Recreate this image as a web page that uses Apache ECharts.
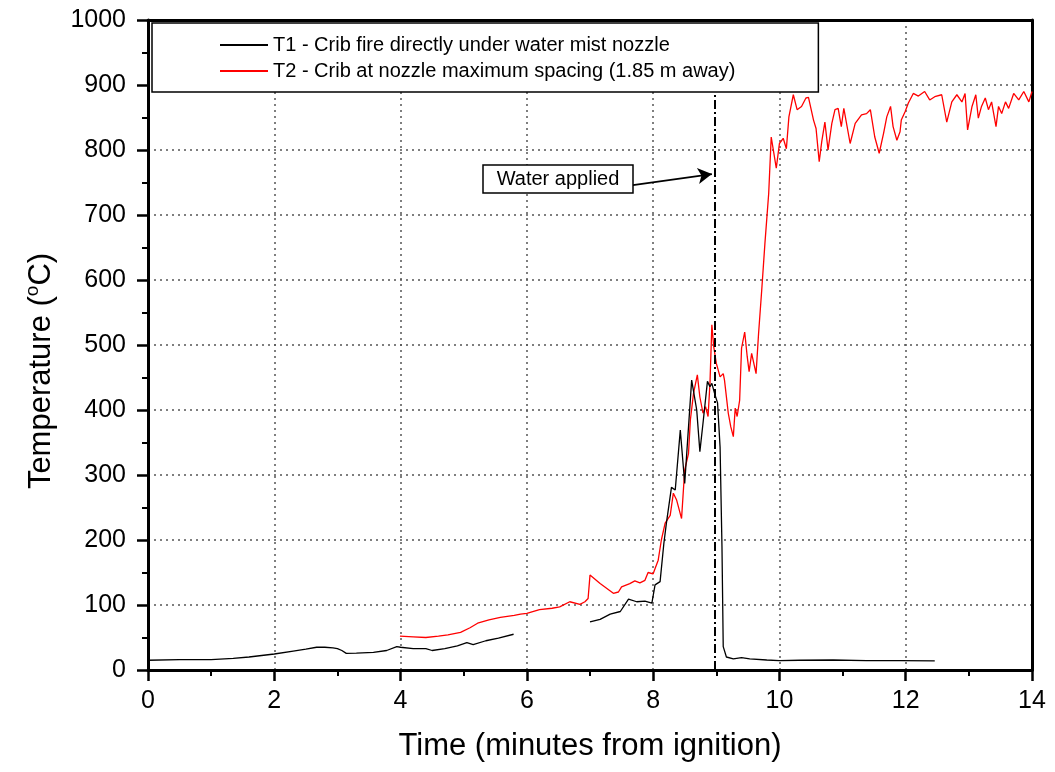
<!DOCTYPE html>
<html>
<head>
<meta charset="utf-8">
<script src="https://cdn.jsdelivr.net/npm/echarts@6/dist/echarts.min.js"></script>
<style>
html,body{margin:0;padding:0;background:#fff;}
#chart{width:1055px;height:772px;}
</style>
</head>
<body>
<div id="chart"></div>
<script>
// ---- Data ----
const seriesNames = [
  'T1 - Crib fire directly under water mist nozzle',
  'T2 - Crib at nozzle maximum spacing (1.85 m away)'
];
const xTicks = [0, 2, 4, 6, 8, 10, 12, 14];
const yTicks = [0, 100, 200, 300, 400, 500, 600, 700, 800, 900, 1000];
const waterAppliedTime = 8.97;
const waterLineRange = [0, 891];
const annotationText = 'Water applied';
const arrowStart = [7.68, 746];
const arrowEnd = [8.93, 763];

// T1 (null marks the data gap between the two recorded segments)
const t1Time = [0, 0.5, 0.82, 1.0, 1.35, 1.6, 2.0, 2.3, 2.5, 2.67, 2.8, 2.93, 3.0, 3.07, 3.14, 3.3, 3.57, 3.78, 3.94, 4.0, 4.2, 4.4, 4.5, 4.7, 4.9, 5.05, 5.15, 5.35, 5.55, 5.79,
  6.4,
  7.0, 7.16, 7.32, 7.48, 7.61, 7.74, 7.87, 7.98, 8.03, 8.11, 8.17, 8.21, 8.29, 8.35, 8.43, 8.5, 8.61, 8.69, 8.74, 8.79, 8.86, 8.9, 8.93, 8.98, 9.02, 9.06, 9.09, 9.11, 9.16, 9.27, 9.4, 9.53, 9.8, 10.0, 10.32, 10.85, 11.38, 11.91, 12.46];
const t1Temp = [15, 16, 16, 16, 18, 20, 24.6, 29, 32, 35, 35, 34, 33, 30, 25.6, 26, 27, 30, 36, 35, 33, 33, 30, 33, 37, 42, 39, 45, 49, 55,
  null,
  74, 78, 86, 90, 109, 105, 106, 103, 131, 136, 195, 226, 281, 277, 369, 287, 446, 400, 336, 380, 444, 436, 441, 423, 411, 343, 190, 36, 20, 17, 19, 17, 15.4, 14.4, 15, 15.4, 14.4, 14.4, 14];

// T2
const t2Time = [3.99, 4.2, 4.4, 4.6, 4.75, 4.95, 5.1, 5.22, 5.4, 5.58, 5.8, 5.9, 6.0, 6.2, 6.4, 6.52, 6.68, 6.84, 6.92, 6.97, 7.0, 7.16, 7.37, 7.45, 7.5, 7.63, 7.71, 7.79, 7.87, 7.92, 8.0, 8.08, 8.13, 8.19, 8.27, 8.32, 8.37, 8.45, 8.5, 8.56, 8.59, 8.64, 8.7, 8.74, 8.79, 8.83, 8.87, 8.9, 8.93, 8.96, 9.0, 9.06, 9.11, 9.13, 9.19, 9.23, 9.27, 9.3, 9.33, 9.37, 9.4, 9.45, 9.49, 9.52, 9.56, 9.63, 9.67, 9.72, 9.77, 9.83, 9.87, 9.9, 9.95, 10.0, 10.06, 10.11, 10.15, 10.22, 10.28, 10.35, 10.42, 10.46, 10.54, 10.58, 10.63, 10.67, 10.72, 10.77, 10.83, 10.88, 10.93, 10.98, 11.02, 11.12, 11.2, 11.3, 11.38, 11.44, 11.51, 11.58, 11.65, 11.7, 11.76, 11.8, 11.86, 11.91, 11.93, 11.99, 12.04, 12.12, 12.2, 12.3, 12.38, 12.46, 12.57, 12.65, 12.73, 12.81, 12.89, 12.94, 12.98, 13.05, 13.11, 13.15, 13.2, 13.26, 13.31, 13.36, 13.43, 13.47, 13.52, 13.58, 13.63, 13.71, 13.79, 13.87, 13.95, 14.0];
const t2Temp = [52, 51, 50, 52, 54, 58, 65, 72, 77, 81, 84, 86, 87, 93, 95, 97, 105, 101, 105, 110, 146, 133, 118, 120, 128, 133, 137, 134, 138, 150, 148, 169, 200, 226, 238, 272, 262, 233, 308, 333, 385, 426, 454, 420, 395, 405, 390, 441, 531, 497, 472, 451, 456, 446, 395, 374, 359, 403, 390, 415, 495, 520, 482, 459, 487, 456, 518, 585, 656, 733, 820, 818, 772, 810, 818, 802, 851, 885, 862, 867, 880, 881, 846, 833, 782, 813, 843, 800, 841, 862, 864, 836, 864, 810, 841, 854, 856, 862, 820, 795, 826, 851, 867, 836, 815, 828, 846, 859, 872, 887, 883, 890, 877, 882, 885, 843, 874, 885, 874, 887, 831, 867, 885, 849, 867, 880, 862, 874, 836, 867, 856, 874, 864, 887, 877, 890, 874, 890];

const zip = (xs, ys) => xs.map((x, i) => [x, ys[i]]);

const FONT = '"Liberation Sans", Arial, Helvetica, sans-serif';

const chart = echarts.init(document.getElementById('chart'), null, {renderer: 'canvas'});

const frameAxis = {
  type: 'value',
  axisLine: {show: true, onZero: false, lineStyle: {color: '#000', width: 3}},
  axisTick: {show: false},
  axisLabel: {show: false},
  splitLine: {show: false}
};

const option = {
  backgroundColor: '#fff',
  animation: false,
  textStyle: {fontFamily: FONT, color: '#000'},
  grid: {
    left: 148, right: 23, top: 20, bottom: 102, show: false
  },
  legend: {
    orient: 'vertical',
    left: 152, top: 23,
    padding: [12, 83, 11, 68],
    itemGap: 6,
    itemWidth: 48, itemHeight: 2,
    icon: 'rect',
    backgroundColor: '#fff',
    borderColor: '#000', borderWidth: 1.5, borderRadius: 0,
    textStyle: {fontFamily: FONT, fontSize: 20, color: '#000'},
    data: seriesNames,
    z: 20
  },
  xAxis: [{
    type: 'value',
    min: xTicks[0], max: xTicks[xTicks.length - 1], interval: 2,
    name: 'Time (minutes from ignition)',
    nameLocation: 'middle', nameGap: 61,
    nameTextStyle: {fontFamily: FONT, fontSize: 31, color: '#000'},
    axisLine: {show: true, onZero: false, lineStyle: {color: '#000', width: 3}},
    axisTick: {show: true, inside: false, length: 11, lineStyle: {color: '#000', width: 2.5}},
    minorTick: {show: true, splitNumber: 2, length: 6, lineStyle: {color: '#000', width: 2}},
    axisLabel: {fontFamily: FONT, fontSize: 25, color: '#000', margin: 19, formatter: v => String(v)},
    splitLine: {show: true, lineStyle: {color: '#555', width: 1.5, type: [2, 4]}},
    minorSplitLine: {show: false}
  }, Object.assign({}, frameAxis, {
    position: 'top', min: xTicks[0], max: xTicks[xTicks.length - 1]
  })],
  yAxis: [{
    type: 'value',
    min: yTicks[0], max: yTicks[yTicks.length - 1], interval: 100,
    name: 'Temperature ({sup|o}C)',
    nameLocation: 'middle', nameGap: 88,
    nameTextStyle: {
      fontFamily: FONT, fontSize: 31, color: '#000', lineHeight: 36,
      padding: [0, 52, 0, 0],
      rich: {sup: {fontFamily: FONT, fontSize: 19, verticalAlign: 'top', lineHeight: 36, color: '#000', padding: [0, 0, 12, 0]}}
    },
    axisLine: {show: true, onZero: false, lineStyle: {color: '#000', width: 3}},
    axisTick: {show: true, inside: false, length: 11, lineStyle: {color: '#000', width: 2.5}},
    minorTick: {show: true, splitNumber: 2, length: 6, lineStyle: {color: '#000', width: 2}},
    axisLabel: {fontFamily: FONT, fontSize: 25, color: '#000', margin: 22, formatter: v => String(v)},
    splitLine: {show: true, lineStyle: {color: '#555', width: 1.5, type: [2, 4]}},
    minorSplitLine: {show: false}
  }, Object.assign({}, frameAxis, {
    position: 'right', min: yTicks[0], max: yTicks[yTicks.length - 1]
  })],
  series: [
    {
      name: seriesNames[0],
      type: 'line',
      data: zip(t1Time, t1Temp),
      showSymbol: false,
      connectNulls: false,
      color: '#000',
      lineStyle: {color: '#000', width: 1.3},
      z: 3,
      markLine: {
        silent: true,
        symbol: 'none',
        animation: false,
        label: {show: false},
        lineStyle: {color: '#000', width: 2, type: [9, 3, 2, 3]},
        data: [[
          {coord: [waterAppliedTime, waterLineRange[0]]},
          {coord: [waterAppliedTime, waterLineRange[1]]}
        ]]
      }
    },
    {
      name: seriesNames[1],
      type: 'line',
      data: zip(t2Time, t2Temp),
      showSymbol: false,
      color: '#ff0000',
      lineStyle: {color: '#ff0000', width: 1.3},
      z: 2,
      markLine: {
        silent: true,
        animation: false,
        symbol: ['none', 'arrow'],
        symbolSize: [12, 14],
        label: {show: false},
        lineStyle: {color: '#000', width: 1.8, type: 'solid'},
        data: [[{coord: arrowStart}, {coord: arrowEnd}]]
      }
    }
  ],
  graphic: [
    {
      type: 'rect',
      shape: {x: 483, y: 165, width: 150, height: 28},
      style: {fill: '#fff', stroke: '#000', lineWidth: 1.5},
      z: 10
    },
    {
      type: 'text',
      x: 558, y: 179,
      style: {text: annotationText, fill: '#000', font: '20px ' + FONT, align: 'center', verticalAlign: 'middle'},
      z: 11
    }
  ]
};

chart.setOption(option);
</script>
</body>
</html>
